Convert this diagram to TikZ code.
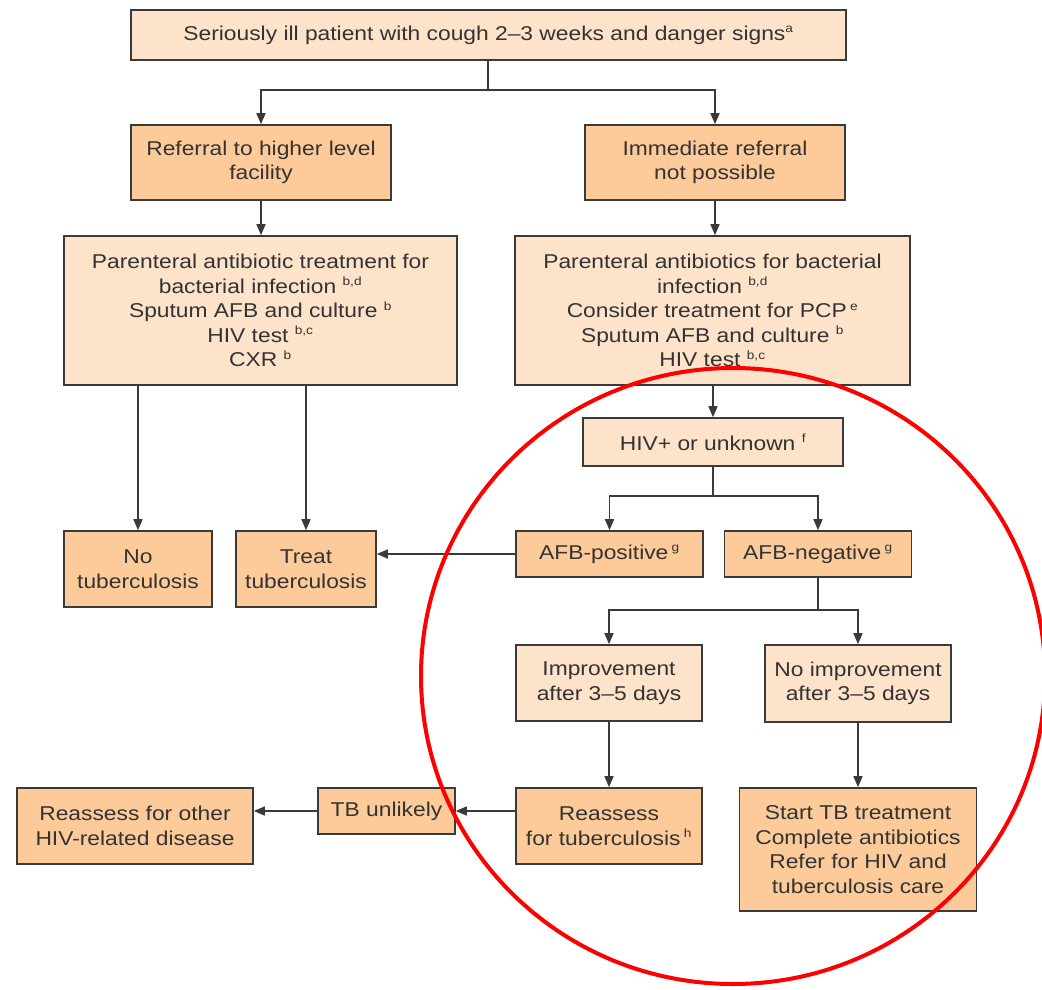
\documentclass[tikz,border=0pt]{standalone}
\usepackage{fontspec}
\setmainfont[FakeStretch=1.14]{Liberation Sans}
\usetikzlibrary{arrows.meta}
\definecolor{lightbox}{HTML}{FDE3C9}
\definecolor{darkbox}{HTML}{FDCB9A}
\definecolor{txt}{HTML}{333333}
\definecolor{edge}{HTML}{3A3A3A}
\newcommand{\sps}[1]{\textsuperscript{\fontsize{12}{12}\selectfont #1}}
\tikzset{
  boxbase/.style={draw=edge, line width=1.6pt, inner sep=0pt, align=center,
    text=txt, font=\fontsize{20}{24.5}\selectfont},
  lbox/.style={boxbase, fill=lightbox},
  dbox/.style={boxbase, fill=darkbox},
  conn/.style={draw=edge, line width=1.5pt},
  arr/.style={conn, -{Triangle[length=11pt,width=9pt]}},
}
\begin{document}
\begin{tikzpicture}[x=1pt,y=-1pt]
\useasboundingbox (0,0) rectangle (1042,989);
\fill[white] (0,0) rectangle (1042,989);

% boxes
\node[lbox, minimum width=715pt, minimum height=50pt] (top) at (488.5,35) {Seriously ill patient with cough 2--3 weeks and danger signs\sps{a}};
\node[dbox, minimum width=260pt, minimum height=75pt] (ref) at (261,162.5) {Referral to higher level\\facility};
\node[dbox, minimum width=260pt, minimum height=75pt] (imm) at (715,162.5) {Immediate referral\\not possible};
\node[lbox, minimum width=393pt, minimum height=149pt] (parl) at (260.5,310.5) {Parenteral antibiotic treatment for\\bacterial infection \sps{b,d}\\Sputum AFB and culture \sps{b}\\HIV test \sps{b,c}\\CXR \sps{b}};
\node[lbox, minimum width=395pt, minimum height=149pt] (parr) at (712.5,310.5) {Parenteral antibiotics for bacterial\\infection \sps{b,d}\\Consider treatment for PCP\,\sps{e}\\Sputum AFB and culture \sps{b}\\HIV test \sps{b,c}};
\node[lbox, minimum width=260pt, minimum height=48pt] (hiv) at (713,442) {HIV+ or unknown \sps{f}};
\node[dbox, minimum width=187pt, minimum height=46pt] (pos) at (609.5,554) {AFB-positive\,\sps{g}};
\node[dbox, minimum width=187pt, minimum height=46pt] (neg) at (818,554) {AFB-negative\,\sps{g}};
\node[dbox, minimum width=148pt, minimum height=76pt] (notb) at (138,569) {No\\tuberculosis};
\node[dbox, minimum width=140pt, minimum height=76pt] (treat) at (306,569) {Treat\\tuberculosis};
\node[lbox, minimum width=186pt, minimum height=76pt] (imp) at (609,683) {Improvement\\after 3--5 days};
\node[lbox, minimum width=186pt, minimum height=77pt] (noimp) at (858,683.5) {No improvement\\after 3--5 days};
\node[dbox, minimum width=137pt, minimum height=46pt] (unl) at (386.5,811) {TB unlikely};
\node[dbox, minimum width=236pt, minimum height=76pt] (other) at (135,826) {Reassess for other\\HIV-related disease};
\node[dbox, minimum width=186pt, minimum height=76pt] (reat) at (609,826) {Reassess\\for tuberculosis\,\sps{h}};
\node[dbox, minimum width=237pt, minimum height=123pt] (start) at (858,849.5) {Start TB treatment\\Complete antibiotics\\Refer for HIV and\\tuberculosis care};

% connectors
\coordinate (s1) at (488,90);
\draw[conn] (top.south -| s1) -- (s1);
\draw[arr] (s1) -| (ref.north);
\draw[arr] (s1) -| (imm.north);
\draw[arr] (ref) -- (parl.north -| ref);
\draw[arr] (imm) -- (parr.north -| imm);
\draw[arr] (parl.south -| notb.north) -- (notb.north);
\draw[arr] (parl.south -| treat.north) -- (treat.north);
\draw[arr] (parr.south -| hiv.north) -- (hiv.north);
\coordinate (s2) at (713,496);
\draw[conn] (hiv.south) -- (s2);
\draw[arr] (s2) -| (pos.north);
\draw[arr] (s2) -| (neg.north);
\draw[arr] (pos.west) -- (treat.east |- pos.west);
\coordinate (s3) at (818,610);
\draw[conn] (neg.south) -- (s3);
\draw[arr] (s3) -| (imp.north);
\draw[arr] (s3) -| (noimp.north);
\draw[arr] (imp.south) -- (reat.north);
\draw[arr] (noimp.south) -- (start.north);
\draw[arr] (reat.west |- unl.east) -- (unl.east);
\draw[arr] (unl.west) -- (other.east |- unl.west);

% red annotation circle
\begin{scope}
\clip (0,0) rectangle (1042,989);
\draw[red, line width=4pt] (733,676) ellipse [x radius=312pt, y radius=308pt];
\end{scope}
\end{tikzpicture}
\end{document}
